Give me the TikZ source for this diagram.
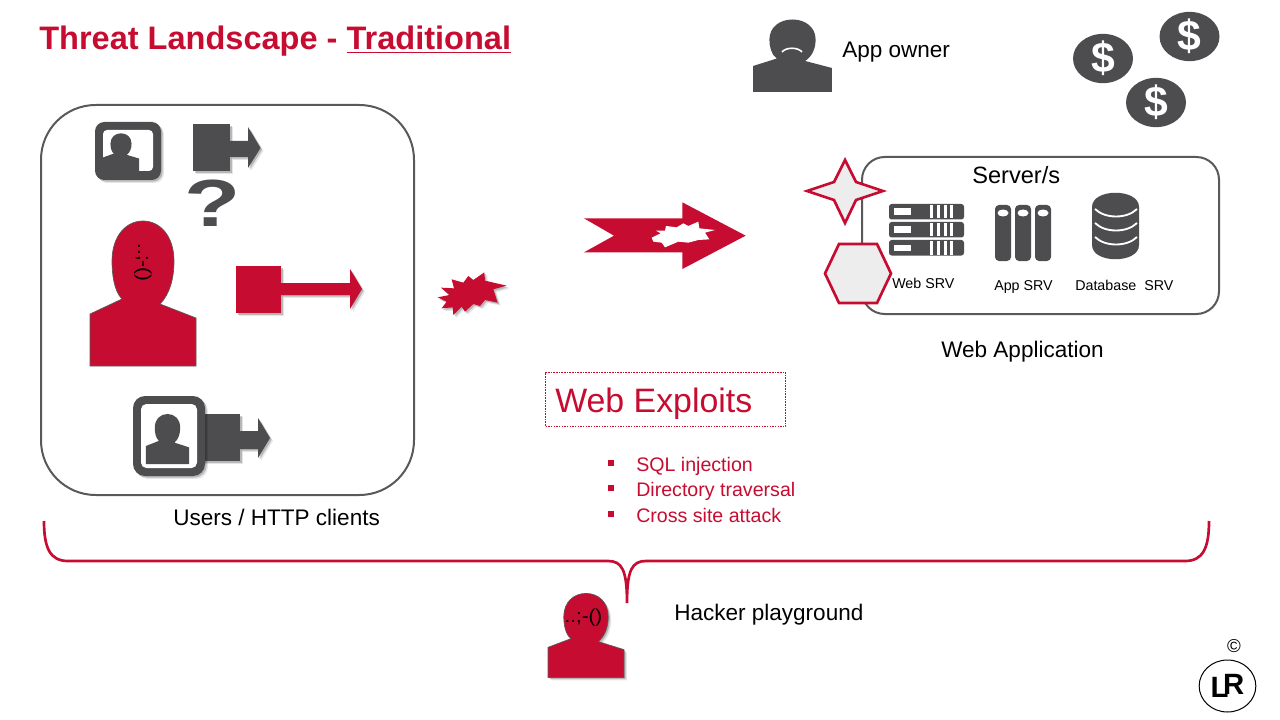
\documentclass[tikz,border=0pt]{standalone}
\usepackage{fontspec}
\setmainfont{Liberation Sans}
\usetikzlibrary{shadows,shapes.geometric}

\definecolor{lrred}{RGB}{198,12,48}
\definecolor{lrdark}{RGB}{77,77,79}
\definecolor{lrline}{RGB}{89,89,89}
\definecolor{lrpale}{RGB}{237,237,237}

\tikzset{
  soft/.style={drop shadow={shadow xshift=2.2pt,shadow yshift=-2.2pt,opacity=0.1,fill=black},
    drop shadow={shadow xshift=1.2pt,shadow yshift=-1.2pt,opacity=0.2,fill=black}},
  label/.style={inner sep=0pt,anchor=base west,font=\fontsize{16.9}{20}\selectfont},
  smalllabel/.style={inner sep=0pt,anchor=base west,font=\fontsize{10.7}{13}\selectfont},
  redlabel/.style={inner sep=0pt,anchor=base west,text=lrred,font=\fontsize{14.7}{18}\selectfont},
  face/.style={inner sep=0pt,font=\fontsize{14}{16}\selectfont},
  coin/.style={ellipse,fill=lrdark,text=white,minimum width=45pt,minimum height=36.5pt,inner sep=0pt,
    font=\fontsize{32}{34}\selectfont\bfseries},
  roundbox/.style={draw=lrline,line width=1.5pt,fill=white},
  hit/.style={draw=lrred,line width=2pt,fill=lrpale,line join=miter},
}

% person: x, y of the foot centre, x scale, y scale, colour
\newcommand{\person}[6][]{
  \path [fill=#6,shift={(#2,#3)},xscale=#4,yscale=#5,#1]
    (-53,0) -- (-53,-52) -- (-21,-67) .. controls (-29,-75) and (-31,-92) .. (-31,-105)
    .. controls (-31,-130) and (-17,-145) .. (0,-145) .. controls (17,-145) and (31,-130) .. (31,-105)
    .. controls (31,-88) and (27,-72) .. (17,-62) -- (53,-48) -- (53,0) -- cycle;
}
% block arrow: square x0, y0, x1, y1, arrow path, colour
\newcommand{\blockarrow}[6]{
  \path [fill=#6,soft] (#1,#2) rectangle (#3,#4);
  \path [fill=#6,soft] #5;
}

\begin{document}
\begin{tikzpicture}[x=0.75pt,y=0.75pt,yscale=-1]
  \useasboundingbox (0,0) rectangle (1280,720);

  % title
  \node [inner sep=0pt,anchor=base west,text=lrred,font=\fontsize{24.4}{30}\selectfont\bfseries] (title) at (39,50) {Threat Landscape - \underline{Traditional}};

  % clients
  \draw [roundbox,rounded corners=41pt] (41,105) rectangle (414,495);
  \node [label] (clients) at (173,525) {Users / HTTP clients};

  \path [fill=lrdark,soft,rounded corners=7pt] (95,122) rectangle (161,180);
  \path [fill=white,rounded corners=3pt] (103,130) rectangle (153,171);
  \person{121}{171}{0.34}{0.26}{lrdark}
  \blockarrow{193}{124}{230}{171}{(230,141) -- (248,141) -- (248,127) -- (260.5,148) -- (248,168) -- (248,157) -- (230,157) -- cycle}{lrdark}
  \node [inner sep=0pt,xscale=1.38,text=lrdark,font=\fontsize{50}{54}\selectfont\bfseries] (question) at (213,203) {?};

  \person[draw=lrline,line width=0.5pt]{143}{366}{1}{1}{lrred}
  \node [face,rotate=-90,xscale=1.1] (clientface) at (143,262.5) {..;-()};
  \blockarrow{236}{266}{281}{313}{(281,283) -- (350,283) -- (350,269) -- (362,289) -- (350,309) -- (350,295) -- (281,295) -- cycle}{lrred}

  \blockarrow{200}{414}{240}{461}{(240,431) -- (258,431) -- (258,418) -- (270,438) -- (258,458) -- (258,449) -- (240,449) -- cycle}{lrdark}
  \path [fill=lrdark,soft,rounded corners=9pt] (133,396) rectangle (205,476);
  \path [fill=white,rounded corners=4pt] (141,404) rectangle (197,468);
  \person{167.5}{464}{0.41}{0.345}{lrdark}

  % attack
  \begin{scope}[shift={(430,190)},scale=1/3]
    \path [fill=lrred,soft] (23,322) -- (58,315) -- (33,293) -- (72,295) -- (65,268) -- (100,278) -- (115,258) -- (130,270) -- (163,247) -- (165,272) -- (230,287) -- (190,298) -- (203,338) -- (165,330) -- (150,348) -- (130,342) -- (105,365) -- (95,350) -- (70,375) -- (68,352) -- (35,355) -- (50,335) -- cycle;
    \path [fill=lrred] (462,85) -- (757,85) -- (757,37) -- (947,137) -- (757,237) -- (757,187) -- (462,187) -- (552,137) -- cycle;
    \path [fill=white] (665,143) -- (692,130) -- (678,122) -- (705,122) -- (708,108) -- (740,112) -- (760,100) -- (775,108) -- (805,95) -- (808,115) -- (855,120) -- (825,128) -- (838,148) -- (805,150) -- (775,158) -- (745,155) -- (705,172) -- (695,158) -- (670,155) -- cycle;
  \end{scope}

  % exploits
  \node [draw=lrred,dash pattern=on 1.2pt off 0.8pt,line width=0.75pt,inner sep=0pt,minimum width=180pt,minimum height=41pt] (exploitbox) at (665.5,399.5) {};
  \node [inner sep=0pt,anchor=base west,text=lrred,font=\fontsize{25.4}{30}\selectfont] (exploits) at (555,412) {Web Exploits};
  \foreach \y/\word/\name in {471/SQL injection/sql,496/Directory traversal/dir,522/Cross site attack/xss}{
    \node [fill=lrred,inner sep=0pt,minimum size=4.5pt] (\name mark) at (611,\y-8) {};
    \node [redlabel] (\name) at (636,\y) {\word};
  }

  % web application
  \node [label] (owner) at (842,58) {App owner};
  \person{792.5}{92}{0.745}{0.5}{lrdark}
  \draw [white,line width=1.2pt] (782,52) .. controls (786,47) and (798,47) .. (802,52);
  \node [coin] (coinA) at (1103,58.5) {\raisebox{-3.4pt}{\$}};
  \node [coin] (coinB) at (1189.5,36.5) {\raisebox{-3.4pt}{\$}};
  \node [coin] (coinC) at (1156,102.5) {\raisebox{-3.4pt}{\$}};

  \draw [roundbox,rounded corners=17pt] (862,157) rectangle (1219,314);
  \node [label,font=\fontsize{17.7}{20}\selectfont] (servers) at (972,184) {Server/s};
  \node [label] (webapp) at (941,357) {Web Application};

  \draw [hit] (845,160) -- (856,182) -- (883,191) -- (856,200) -- (845,223) -- (834,200) -- (807,191) -- (834,182) -- cycle;
  \draw [hit] (839,244) -- (877,244) -- (891,273.5) -- (877,303) -- (839,303) -- (825,273.5) -- cycle;

  % web server
  \foreach \y in {204,222,240}{
    \path [fill=lrdark,rounded corners=2pt] (889,\y) rectangle (964,\y+15.5);
    \path [fill=white] (894,\y+4.5) rectangle (911,\y+11);
    \foreach \x in {930,937,943.5,950}{
      \path [fill=white] (\x,\y+1) rectangle (\x+3,\y+14.5);
    }
  }
  \node [smalllabel] (websrv) at (892,288) {Web SRV};

  % app server
  \foreach \x in {995,1015,1035}{
    \path [fill=lrdark,rounded corners=3pt] (\x,205) rectangle (\x+16,261);
    \path [fill=white] (\x+8,213) ellipse [x radius=5.5,y radius=3.5];
  }
  \node [smalllabel] (appsrv) at (994,290) {App SRV};

  % database
  \path [fill=lrdark] (1092,207) .. controls (1092,188) and (1139,188) .. (1139,207) -- (1139,245) .. controls (1139,264) and (1092,264) .. (1092,245) -- cycle;
  \foreach \y in {209,223,237}{
    \draw [white,line width=1.4pt] (1095,\y) .. controls (1105,\y+10) and (1127,\y+10) .. (1137,\y);
  }
  \node [smalllabel] (dbsrv) at (1075,290) {Database\ \ SRV};

  % playground
  \draw [lrred,line width=2pt] (44,521) .. controls (44,548) and (50,561) .. (68,561) -- (608,561) .. controls (622,561) and (627,570) .. (627,603) .. controls (627,570) and (632,561) .. (646,561) -- (1185,561) .. controls (1203,561) and (1209,548) .. (1209,521);
  \person[soft,draw=lrline,line width=0.5pt]{586}{677.5}{0.717}{0.58}{lrred}
  \node [face,xscale=1.1] (hackerface) at (583.5,618) {..;-()};
  \node [label] (playground) at (674,620) {Hacker playground};

  % logo
  \node [inner sep=0pt,font=\fontsize{14}{16}\selectfont] (copyright) at (1234,646) {©};
  \node [draw=black,ellipse,line width=0.75pt,minimum width=42.5pt,minimum height=39pt,inner sep=0pt,font=\fontsize{22}{26}\selectfont\bfseries] (logo) at (1227.5,686) {L\kern-4pt\raisebox{2pt}{R}};
\end{tikzpicture}
\end{document}
